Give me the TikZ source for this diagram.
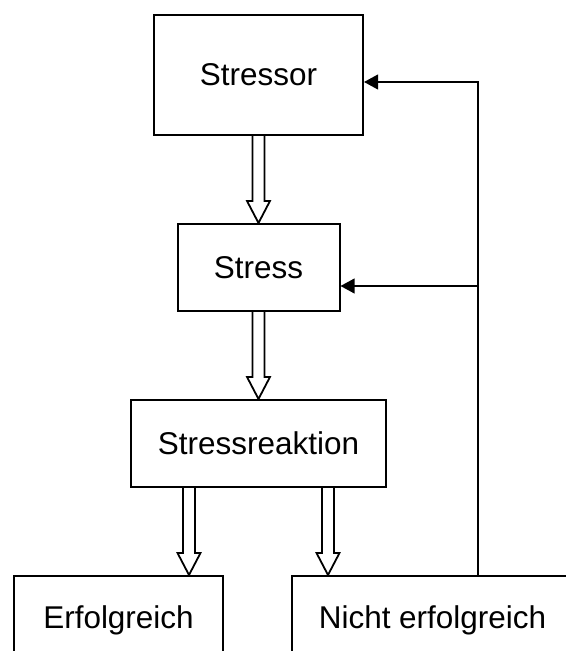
\documentclass[tikz,border=0pt]{standalone}
\usepackage{fontspec}
\setmainfont{Liberation Sans}
\usetikzlibrary{arrows.meta, positioning, calc}

\newcommand{\hollowarrow}[2]{%
  \draw[hollow] let \p1=#1, \p2=#2 in
    (\x1-4.5pt,\y1) -- (\x1-4.5pt,\y2+16.5pt) -- (\x1-8.6pt,\y2+16.5pt)
    -- (\x1,\y2) -- (\x1+8.6pt,\y2+16.5pt) -- (\x1+4.5pt,\y2+16.5pt)
    -- (\x1+4.5pt,\y1);}

\begin{document}
\begin{tikzpicture}[
    x=0.75pt, y=-0.75pt,
    node distance=65.25pt,
    box/.style={rectangle, draw=black, line width=1.5pt, inner sep=0pt, align=center,
        font=\fontsize{23.6}{28}\selectfont},
    hollow/.style={draw=black, line width=1.35pt, fill=white, line join=miter},
    arrow/.style={-{Triangle[length=10.5pt, width=11pt]}, line width=1.5pt}
]
\useasboundingbox (0,0) rectangle (566,651);

\node[box, minimum width=156.75pt, minimum height=90pt] (stressor) at (258.5,75) {Stressor};
\node[box, minimum width=121.5pt, minimum height=65.25pt, below=of stressor] (stress) {Stress};
\node[box, minimum width=191.25pt, minimum height=65.25pt, below=of stress] (reaktion) {Stressreaktion};
\node[box, minimum width=156.75pt, minimum height=66pt, below=of reaktion, xshift=-105pt] (erfolg) {Erfolgreich};
\node[box, minimum width=210.75pt, minimum height=66pt, below=of reaktion, xshift=130.5pt] (nicht) {Nicht erfolgreich};

% hollow arrows
\hollowarrow{(stressor.south)}{(stress.north)}
\hollowarrow{(stress.south)}{(reaktion.north)}
\hollowarrow{($(reaktion.south)+(-69.5,0)$)}{(erfolg.north)}
\hollowarrow{($(reaktion.south)+(69.5,0)$)}{(nicht.north)}

% feedback
\coordinate (fb) at ($(nicht.north)+(45.5,0)$);
\coordinate (instressor) at ($(stressor.east)+(0,7)$);
\coordinate (instress) at ($(stress.east)+(0,18.5)$);
\draw[arrow] (fb) |- (instressor);
\draw[arrow] (instress -| fb) -- (instress);
\end{tikzpicture}
\end{document}
